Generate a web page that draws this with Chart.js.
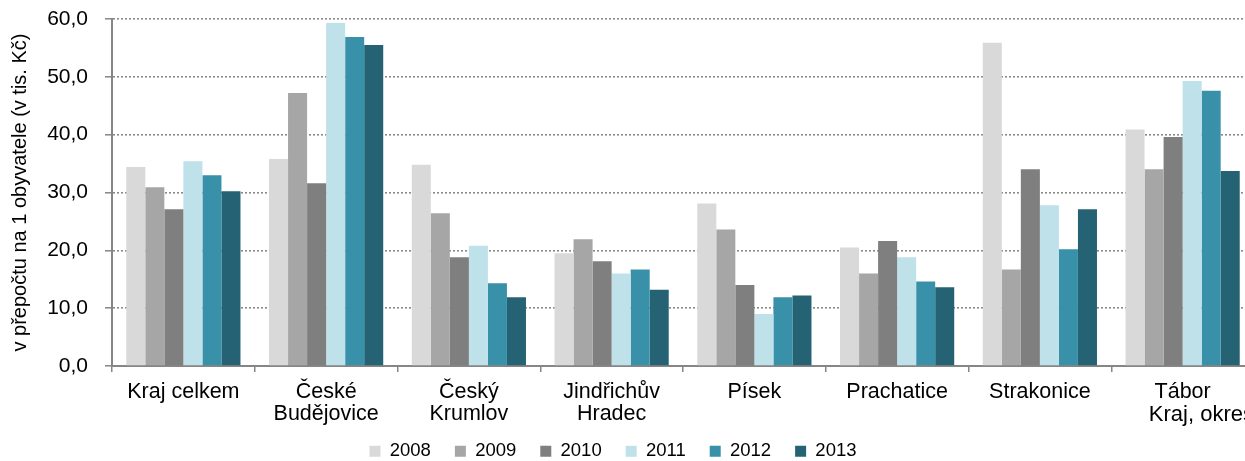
<!DOCTYPE html>
<html>
<head>
<meta charset="utf-8">
<script src="https://cdn.jsdelivr.net/npm/chart.js@4/dist/chart.umd.min.js"></script>
<style>
html, body { margin: 0; padding: 0; overflow: hidden; background: #fff; }
#wrap { position: absolute; left: 0; top: 0; width: 1320px; height: 461px; }
</style>
</head>
<body>
<div id="wrap"><canvas id="c"></canvas></div>
<script>
const categories = [
  'Kraj celkem',
  ['České', 'Budějovice'],
  ['Český', 'Krumlov'],
  ['Jindřichův', 'Hradec'],
  'Písek',
  'Prachatice',
  'Strakonice',
  'Tábor'
];
const years = ['2008', '2009', '2010', '2011', '2012', '2013'];
const v2008 = [34.4, 35.8, 34.8, 19.5, 28.1, 20.5, 55.9, 40.9];
const v2009 = [30.9, 47.2, 26.4, 21.9, 23.6, 16.0, 16.7, 34.0];
const v2010 = [27.1, 31.6, 18.8, 18.1, 14.0, 21.6, 34.0, 39.6];
const v2011 = [35.4, 59.3, 20.8, 16.0, 9.0, 18.8, 27.8, 49.3];
const v2012 = [33.0, 56.9, 14.3, 16.7, 11.9, 14.6, 20.2, 47.6];
const v2013 = [30.2, 55.5, 11.9, 13.2, 12.2, 13.6, 27.1, 33.7];
const yTitle = 'v přepočtu na 1 obyvatele (v tis. Kč)';
const xTitle = 'Kraj, okres';

const seriesValues = [v2008, v2009, v2010, v2011, v2012, v2013];
const colors = ['#D9D9D9', '#A6A6A6', '#7F7F7F', '#BFE1EA', '#3891A9', '#256273'];

const FONT = "'Liberation Sans', Arial, sans-serif";
const AXIS = '#868686';

const legendShift = {
  id: 'legendShift',
  afterLayout(chart) {
    const lg = chart.legend;
    if (!lg) return;
    lg.left -= 14; lg.right -= 14;
    lg.top = 418; lg.bottom = 418 + 60;
    lg.height = 60;
  }
};

new Chart(document.getElementById('c'), {
  type: 'bar',
  data: {
    labels: categories,
    datasets: years.map((y, i) => ({
      label: y,
      data: seriesValues[i],
      backgroundColor: colors[i],
      borderWidth: 0,
      categoryPercentage: 0.8,
      barPercentage: 1.0
    }))
  },
  options: {
    responsive: true,
    maintainAspectRatio: false,
    animation: false,
    layout: { padding: { top: 19, right: 66, left: 0, bottom: 0 } },
    plugins: {
      tooltip: { enabled: false },
      legend: {
        position: 'bottom',
        maxHeight: 20,
        labels: {
          font: { family: FONT, size: 18.5 },
          color: '#000',
          boxWidth: 11,
          boxHeight: 11,
          padding: 24
        }
      }
    },
    scales: {
      x: {
        z: 1,
        afterFit: s => { s.height = 75; s.paddingLeft = 0; s.paddingRight = 0; },
        border: { color: AXIS, width: 2 },
        grid: { display: true, drawOnChartArea: false, drawTicks: true, tickLength: 6, color: AXIS, lineWidth: 1.5, offset: true },
        ticks: { font: { family: FONT, size: 21.5, lineHeight: 1.03 }, color: '#000', padding: 9, maxRotation: 0, autoSkip: false },
        title: { display: true, text: xTitle, align: 'end', color: '#000', font: { family: FONT, size: 22 }, padding: { top: 0, bottom: 13 } }
      },
      y: {
        min: 0, max: 60,
        afterFit: s => { s.width = 112; s.paddingTop = 0; s.paddingBottom = 0; },
        border: { color: AXIS, width: 2, dash: [2, 2] },
        grid: { color: '#8a8a8a', lineWidth: 1.6, drawTicks: true, tickLength: 7, tickColor: AXIS, tickWidth: 1.5, tickBorderDash: [] },
        ticks: {
          stepSize: 10,
          padding: 17,
          color: '#000',
          font: { family: FONT, size: 21 },
          callback: v => v.toFixed(1).replace('.', ',')
        },
        title: { display: true, text: yTitle, color: '#000', font: { family: FONT, size: 20 }, padding: { top: 8, bottom: 0 } }
      }
    }
  },
  plugins: [legendShift]
});
</script>
</body>
</html>
